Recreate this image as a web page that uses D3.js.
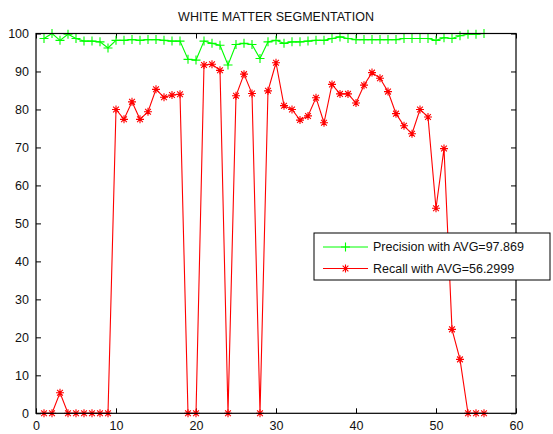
<!DOCTYPE html>
<html><head><meta charset="utf-8">
<script src="https://cdn.jsdelivr.net/npm/d3@7"></script>
<style>body{margin:0;background:#fff}svg{display:block}text{font-family:"Liberation Sans",Arial,sans-serif}</style>
</head><body>
<script>
const xValues = d3.range(1, 57);
const precision = [98.7,100,98.2,99.8,98.7,98,98,97.8,96.2,98.2,98.2,98.4,98.2,98.4,98.4,98.2,98,98,93.2,93,
98,97.4,96.9,91.7,97.1,97.4,97.1,93.4,97.8,98.2,97.4,97.8,97.8,98,98.2,98.2,98.7,99.1,98.7,98.4,
98.4,98.4,98.4,98.4,98.4,98.7,98.7,98.7,98.7,98.2,98.9,98.7,99.4,99.8,99.8,100];
const recall = [0,0,5.4,0,0,0,0,0,0,80,77.4,82,77.4,79.4,85.3,83.2,83.8,84,0,0,
91.7,91.9,90.3,0,83.6,89.3,84.2,0,84.9,92.3,81,80,77.2,78.3,83.1,76.5,86.6,84.1,84.1,81.7,
86.4,89.7,88.2,84.7,78.9,75.7,73.6,80,78,54,69.7,22.1,14.2,0,0,0];
const xTicks = [0,10,20,30,40,50,60];
const yTicks = [0,10,20,30,40,50,60,70,80,90,100];
const title = "WHITE MATTER SEGMENTATION";
const legendLabels = ["Precision with AVG=97.869","Recall with AVG=56.2999"];

const W=553,H=434;
const svg=d3.select("body").append("svg").attr("width",W).attr("height",H);
const L=36,R=516,T=33.5,B=413.3;
const x=d3.scaleLinear().domain([0,60]).range([L,R]);
const y=d3.scaleLinear().domain([0,100]).range([B,T]);

svg.append("text").attr("x",276).attr("y",21).attr("text-anchor","middle").attr("font-size",12.5).attr("fill","#111").text(title);

const tk=5;
const gx=svg.append("g").attr("transform",`translate(0,${B})`).call(d3.axisBottom(x).tickValues(xTicks).tickSize(-tk).tickPadding(8));
const gxt=svg.append("g").attr("transform",`translate(0,${T})`).call(d3.axisTop(x).tickValues(xTicks).tickSize(-tk).tickFormat(""));
const gy=svg.append("g").attr("transform",`translate(${L},0)`).call(d3.axisLeft(y).tickValues(yTicks).tickSize(-tk).tickPadding(7));
const gyr=svg.append("g").attr("transform",`translate(${R},0)`).call(d3.axisRight(y).tickValues(yTicks).tickSize(-tk).tickFormat(""));
[gx,gxt,gy,gyr].forEach(g=>{g.select(".domain").remove();g.selectAll(".tick line").attr("stroke","#000");g.selectAll("text").attr("font-size",12.5).attr("fill","#111").style("font-family",'"Liberation Sans",Arial,sans-serif');});
gx.selectAll("text").attr("dy","0.71em");

const line=d3.line().x((d,i)=>x(xValues[i])).y(d=>y(d));
svg.append("path").datum(precision).attr("d",line).attr("fill","none").attr("stroke","#00ff00").attr("stroke-width",1.1);
svg.append("path").datum(recall).attr("d",line).attr("fill","none").attr("stroke","#ff0000").attr("stroke-width",1.1);

function plus(g,cx,cy,s,c){g.append("path").attr("d",`M${cx-s},${cy}H${cx+s}M${cx},${cy-s}V${cy+s}`).attr("stroke",c).attr("stroke-width",1.1);}
function star(g,cx,cy,s,c){const d=s*0.72;g.append("path").attr("d",`M${cx-s},${cy}H${cx+s}M${cx},${cy-s}V${cy+s}M${cx-d},${cy-d}L${cx+d},${cy+d}M${cx-d},${cy+d}L${cx+d},${cy-d}`).attr("stroke",c).attr("stroke-width",1.1);}
const gm=svg.append("g");
precision.forEach((v,i)=>plus(gm,x(xValues[i]),y(v),4.5,"#00ff00"));
recall.forEach((v,i)=>star(gm,x(xValues[i]),y(v),4,"#ff0000"));

svg.append("rect").attr("x",L).attr("y",T).attr("width",R-L).attr("height",B-T).attr("fill","none").attr("stroke","#000").attr("stroke-width",1.2);

const lg=svg.append("g");
lg.append("rect").attr("x",314).attr("y",233).attr("width",236).attr("height",47).attr("fill","#fff").attr("stroke","#000").attr("stroke-width",1);
const cols=["#00ff00","#ff0000"];
legendLabels.forEach((t,i)=>{
  const yy=247+i*21.5;
  lg.append("line").attr("x1",323).attr("x2",368).attr("y1",yy).attr("y2",yy).attr("stroke",cols[i]);
  if(i===0) plus(lg,345.5,yy,4.5,cols[i]); else star(lg,345.5,yy,4,cols[i]);
  lg.append("text").attr("x",373).attr("y",yy).attr("dy","0.35em").attr("font-size",12.5).attr("fill","#111").text(t);
});
</script>
</body></html>
